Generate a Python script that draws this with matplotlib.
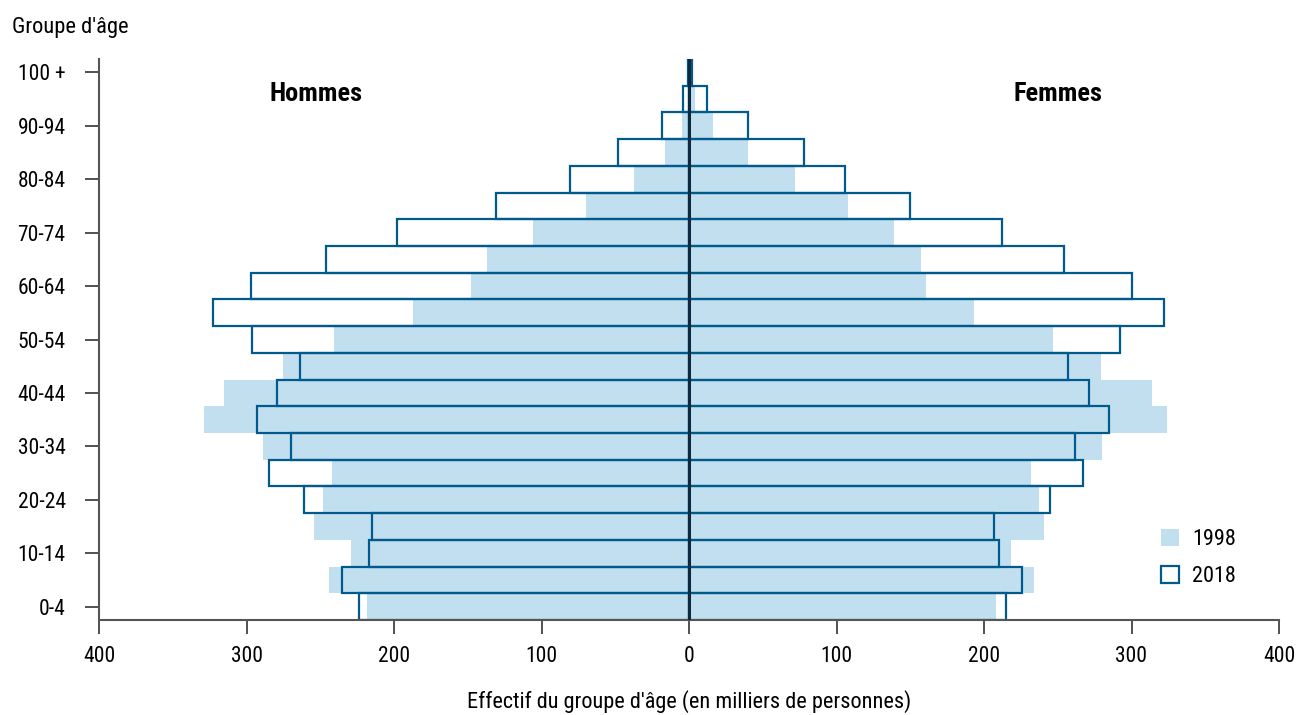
import numpy as np
import matplotlib
matplotlib.use("Agg")
import matplotlib.pyplot as plt
from matplotlib.patches import Patch

plt.rcParams['font.family'] = ['Liberation Sans Narrow', 'Roboto Condensed',
                               'DejaVu Sans Condensed', 'Liberation Sans',
                               'DejaVu Sans']

# Age groups, bottom to top
ages = ["0-4", "5-9", "10-14", "15-19", "20-24", "25-29", "30-34", "35-39",
        "40-44", "45-49", "50-54", "55-59", "60-64", "65-69", "70-74",
        "75-79", "80-84", "85-89", "90-94", "95-99", "100 +"]

# thousands of persons
men_1998 = [218, 244, 229, 254, 248, 242, 289, 329, 315, 275, 241,
            187, 148, 137, 106, 70, 37, 16, 5, 1, 0.3]
men_2018 = [224, 235, 217, 215, 261, 285, 270, 293, 279, 264, 296,
            323, 297, 246, 198, 131, 81, 48, 18, 4, 0.5]
women_1998 = [208, 234, 218, 241, 237, 232, 280, 324, 314, 279, 247,
              193, 161, 157, 139, 108, 72, 40, 16, 4, 1]
women_2018 = [215, 226, 210, 207, 245, 267, 262, 285, 271, 257, 292,
              322, 300, 254, 212, 150, 106, 78, 40, 12, 2]

light = "#c2dff0"
dark = "#005a8c"

fig = plt.figure(figsize=(12.96, 7.15), dpi=100)
ax = fig.add_axes([99 / 1296, 1 - 620 / 715, 1180 / 1296, 561 / 715])

y = np.arange(len(ages))
men_1998 = np.array(men_1998)
men_2018 = np.array(men_2018)
women_1998 = np.array(women_1998)
women_2018 = np.array(women_2018)

# 1998 filled bars
ax.barh(y, -men_1998, height=1.0, color=light, edgecolor="none", zorder=1)
ax.barh(y, women_1998, height=1.0, color=light, edgecolor="none", zorder=1)

# 2018 outline bars
ax.barh(y, -men_2018, height=1.0, facecolor="none", edgecolor=dark,
        linewidth=1.6, zorder=2)
ax.barh(y, women_2018, height=1.0, facecolor="none", edgecolor=dark,
        linewidth=1.6, zorder=2)

ax.axvline(0, color="#0b2a40", linewidth=2.2, zorder=3)

ax.set_xlim(-400, 400)
ax.set_ylim(-0.5, len(ages) - 0.5)

xt = np.arange(-400, 401, 100)
ax.set_xticks(xt)
ax.set_xticklabels([str(abs(v)) for v in xt])
ax.set_yticks(y[::2])
ax.set_yticklabels(ages[::2])

ax.tick_params(axis="x", length=10, width=1.2, color="#333333",
               labelsize=15.5, pad=9, direction="out")
ax.tick_params(axis="y", length=10, width=1.2, color="#333333",
               labelsize=15.5, pad=14, direction="out")

for s in ["top", "right"]:
    ax.spines[s].set_visible(False)
for s in ["left", "bottom"]:
    ax.spines[s].set_color("#555555")
    ax.spines[s].set_linewidth(1.5)

ax.set_xlabel("Effectif du groupe d'âge (en milliers de personnes)",
              fontsize=16, labelpad=16)
fig.text(12 / 1296, 1 - 27 / 715, "Groupe d'âge", fontsize=16.2, va="center")

ax.text(-253, 19.2, "Hommes", fontsize=19, fontweight="bold",
        ha="center", va="center")
ax.text(250, 19.2, "Femmes", fontsize=19, fontweight="bold",
        ha="center", va="center")

handles = [Patch(facecolor=light, edgecolor="none", label="1998"),
           Patch(facecolor="white", edgecolor=dark, linewidth=1.6, label="2018")]
ax.legend(handles=handles, loc="upper left", bbox_to_anchor=(0.9, 0.162),
          frameon=False, fontsize=16, handlelength=0.8, handleheight=0.8,
          handletextpad=0.6, labelspacing=0.7, borderaxespad=0, borderpad=0)

fig.savefig("out.png", dpi=100)
